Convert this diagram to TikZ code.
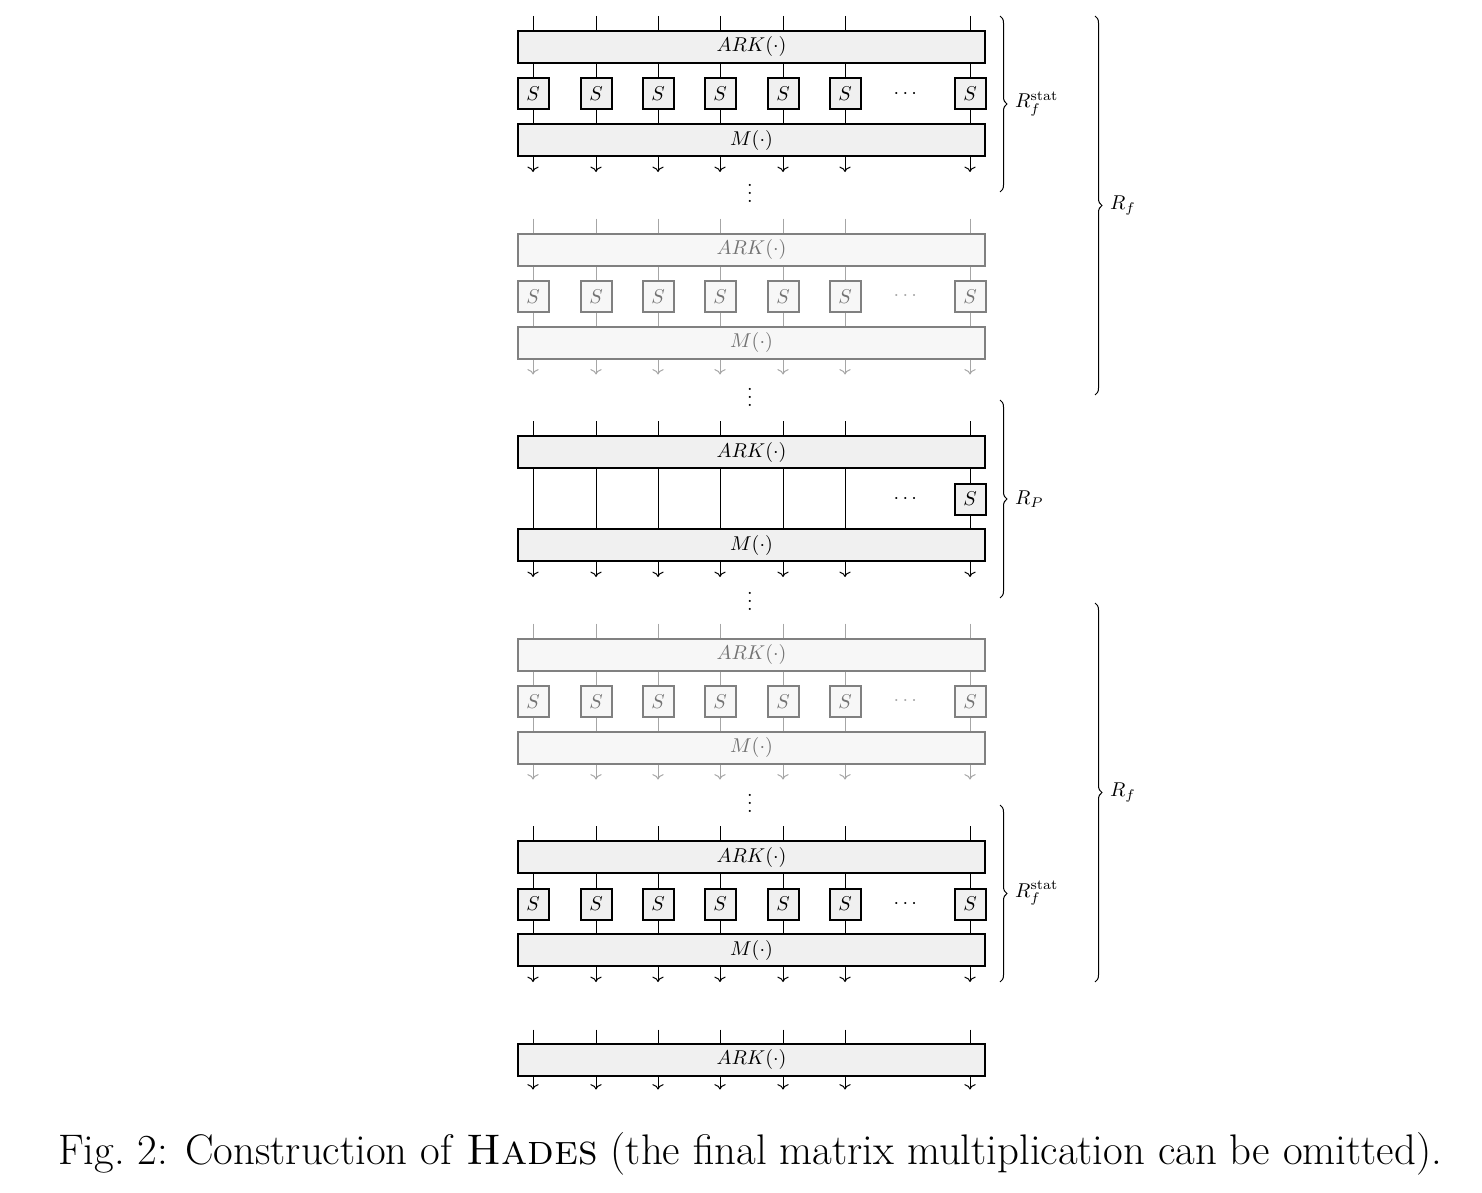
\documentclass[tikz,border=0pt]{standalone}
\usepackage{amsmath, amssymb}
\usepackage{tikz}
\usetikzlibrary{arrows.meta, calc, positioning, decorations.pathreplacing}

\tikzset{
  bar/.style={line width=1pt, minimum width=233.5pt, minimum height=16pt, inner sep=0pt},
  sbox/.style={line width=1pt, minimum size=15.5pt, inner sep=0pt},
  live/.style={draw=black, fill=black!6, text=black},
  faded/.style={draw=black!50, fill=black!3, text=black!55},
  roundbrace/.style={decorate, decoration={brace, amplitude=3.5pt}, line width=0.5pt}
}

\begin{document}
\begin{tikzpicture}[x=0.5pt, y=0.5pt, line width=0.5pt]
\useasboundingbox (0,0) rectangle (1482,-1193);

% Full rounds (ARK, S-layer, M)
\foreach \r/\c/\look/\ink in {a/47/live/black, b/249.5/faded/black!35, d/654.5/faded/black!35, e/857/live/black}{
  \node[bar,\look] (ark\r) at (751.5,-\c) {$ARK(\cdot)$};
  \node[bar,\look] (m\r) at (751.5,{-\c-93}) {$M(\cdot)$};
  \node[text=\ink] (dots\r) at (907,{-\c-47}) {$\cdots$};
  \foreach \k/\x in {1/533,2/596,3/658,4/720,5/783,6/845,7/970}{
    \node[sbox,\look] (s\r\k) at (\x,{-\c-47}) {$S$};
    \coordinate (in\r\k) at (\x,{-\c+31});
    \coordinate (out\r\k) at (\x,{-\c-125});
    \draw[\ink] (in\r\k) -- (ark\r.north -| s\r\k);
    \draw[\ink] (ark\r.south -| s\r\k) -- (s\r\k.north);
    \draw[\ink] (s\r\k.south) -- (m\r.north -| s\r\k);
    \draw[\ink,->] (m\r.south -| s\r\k) -- (out\r\k);
  }
}

% Partial round (one S-box)
\node[bar,live] (arkc) at (751.5,-452) {$ARK(\cdot)$};
\node[bar,live] (mc) at (751.5,-545) {$M(\cdot)$};
\node[sbox,live] (sc7) at (970,-499) {$S$};
\node (dotsc) at (907,-499) {$\cdots$};
\foreach \k/\x in {1/533,2/596,3/658,4/720,5/783,6/845,7/970}{
  \coordinate (inc\k) at (\x,-421);
  \coordinate (outc\k) at (\x,-577);
  \draw (inc\k) -- (arkc.north -| inc\k);
  \draw[->] (mc.south -| inc\k) -- (outc\k);
}
\foreach \k in {1,...,6}{
  \draw (arkc.south -| inc\k) -- (mc.north -| inc\k);
}
\draw (arkc.south -| sc7) -- (sc7.north);
\draw (sc7.south) -- (mc.north -| sc7);

% Final key addition
\node[bar,live] (arkf) at (751.5,-1059.5) {$ARK(\cdot)$};
\foreach \k/\x in {1/533,2/596,3/658,4/720,5/783,6/845,7/970}{
  \coordinate (inf\k) at (\x,-1029.5);
  \coordinate (outf\k) at (\x,-1089.5);
  \draw (inf\k) -- (arkf.north -| inf\k);
  \draw[->] (arkf.south -| inf\k) -- (outf\k);
}

% Dots between rounds
\node[inner sep=0pt] (vd1) at (750,-187) {$\vdots$};
\node[inner sep=0pt] (vd2) at (750,-391) {$\vdots$};
\node[inner sep=0pt] (vd3) at (750,-595) {$\vdots$};
\node[inner sep=0pt] (vd4) at (750,-797) {$\vdots$};

% Braces
\draw[roundbrace] (1000,-16) -- node[right=4pt] {$R_f^{\textrm{stat}}$} (1000,-192);
\draw[roundbrace] (1095,-16) -- node[right=4pt] {$R_f$} (1095,-395);
\draw[roundbrace] (1000,-400) -- node[right=4pt] {$R_P$} (1000,-598);
\draw[roundbrace] (1095,-603) -- node[right=4pt] {$R_f$} (1095,-982);
\draw[roundbrace] (1000,-805) -- node[right=4pt] {$R_f^{\textrm{stat}}$} (1000,-982);

% Caption
\node[font=\fontsize{21.4pt}{26pt}\selectfont] (caption) at (750,-1154)
  {Fig.~2: Construction of \textsc{Hades} (the final matrix multiplication can be omitted).};
\end{tikzpicture}
\end{document}
